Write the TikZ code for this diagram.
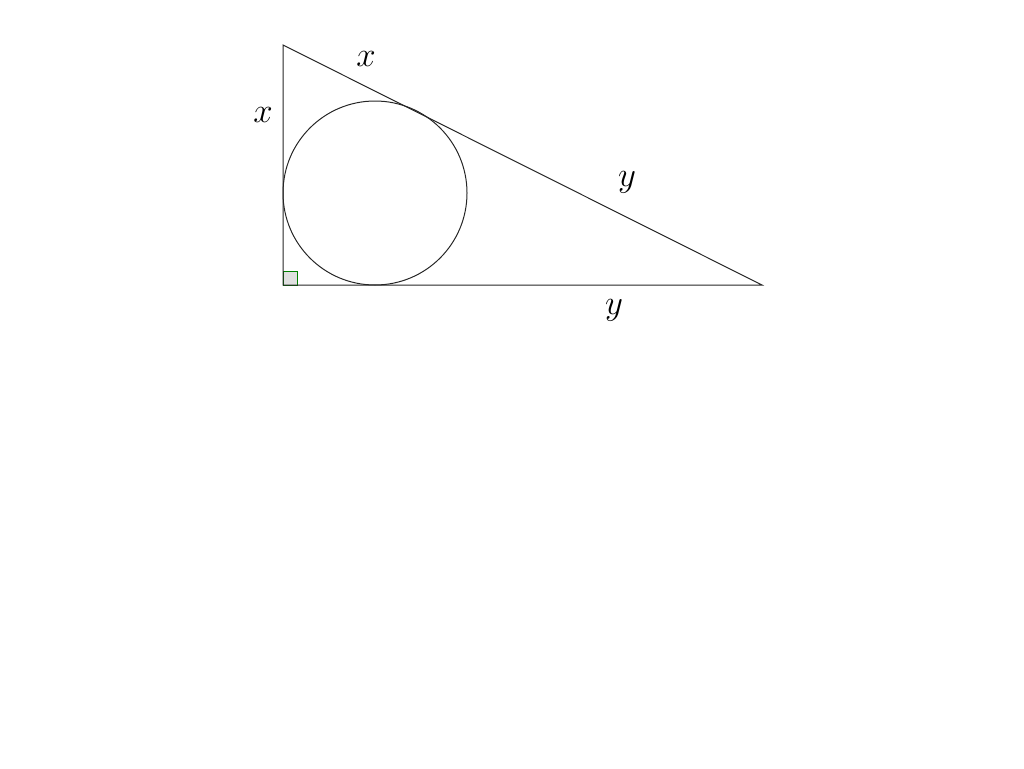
\documentclass[tikz,border=0pt]{standalone}
\usepackage{graphicx}
\begin{document}
\begin{tikzpicture}[x=1pt,y=-1pt,
  edge/.style={draw=black!85,line width=1pt},
  lbl/.style={font=\Huge}]
\useasboundingbox (0,0) rectangle (1024,768);
\coordinate (A) at (283,45);
\coordinate (B) at (283,285);
\coordinate (C) at (762,285);
\filldraw[fill=black!12,draw=green!50!black,line width=0.8pt] (283,285) rectangle (297,271);
\draw[edge] (A) -- (B) -- (C) -- cycle;
\draw[edge] (375,193) circle[radius=92];
\node[lbl] (x1) at (366,59) {\scalebox{1.4}{$x$}};
\node[lbl] (x2) at (263,115) {\scalebox{1.4}{$x$}};
\node[lbl] (y1) at (627,182) {\scalebox{1.4}{$y$}};
\node[lbl] (y2) at (614,310) {\scalebox{1.4}{$y$}};
\end{tikzpicture}
\end{document}
